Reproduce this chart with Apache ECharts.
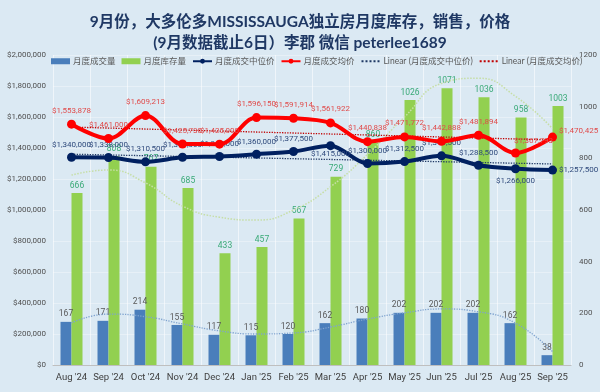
<!DOCTYPE html>
<html>
<head>
<meta charset="utf-8">
<script src="https://cdn.jsdelivr.net/npm/echarts@6/dist/echarts.min.js"></script>
<style>
html,body{margin:0;padding:0;background:#dbe9f3;}
#chart{width:600px;height:392px;}
</style>
</head>
<body>
<div id="chart"></div>
<script>
// ---- data ----
const categories = ["Aug '24","Sep '24","Oct '24","Nov '24","Dec '24","Jan '25","Feb '25","Mar '25","Apr '25","May '25","Jun '25","Jul '25","Aug '25","Sep '25"];
const sales = [167,171,214,155,117,115,120,162,180,202,202,202,162,38];
const inventory = [666,808,767,685,433,457,567,729,860,1026,1071,1036,958,1003];
const medianPrice = [1340000,1338000,1310500,1340000,1345000,1360000,1377500,1415000,1300000,1312500,1349500,1288500,1266000,1257500];
const averagePrice = [1553878,1461000,1609213,1425730,1425000,1596150,1591914,1561922,1440838,1471772,1442888,1481894,1367793,1470425];
// trend lines (endpoints for linear; curve points for the count trends)
const medianLinearEnds = [1360000, 1297000];
const averageLinearEnds = [1535000, 1452000];
const salesTrend = [163,197,187,159,132,120,124,147,178,202,217,206,162,52];
const inventoryTrend = [735,755,705,615,572,561,600,690,815,960,1090,1110,1040,915];
const leftTicks = {min:0, max:2000000, interval:200000};
const rightTicks = {min:0, max:1200, interval:200};

// ---- styling ----
const numFont = "Roboto, 'Liberation Sans', sans-serif";
const cjkFont = "Lato, 'Noto Sans CJK SC', sans-serif";
const medianLabelPos = {7:['bottom',[0,-4]], 12:['bottom',[0,0]], 13:['right',[-2,0]]};
const avgLabelPos = {12:['top',[18,2]], 13:['right',[-3,-6]]};
const money = v => '$' + Math.round(v).toLocaleString('en-US');

function endsToSeries(ends){
  const arr = categories.map(() => null);
  arr[0] = ends[0]; arr[arr.length-1] = ends[1];
  return arr;
}
function withLabels(values, posMap, defPos){
  return values.map((v,i) => {
    const p = posMap[i];
    return {value:v, label:{position: p ? p[0] : defPos, offset: p ? p[1] : [0,0]}};
  });
}
const noMarker = {color:'rgba(0,0,0,0)', borderColor:'rgba(0,0,0,0)', borderWidth:0};

const chart = echarts.init(document.getElementById('chart'), null, {renderer:'canvas'});
chart.setOption({
  backgroundColor:'#dbe9f3',
  animation:false,
  title:{
    text:"9月份，大多伦多MISSISSAUGA独立房月度库存，销售，价格\n(9月数据截止6日）李郡 微信 peterlee1689",
    left:'center', top:6,
    textStyle:{fontFamily:cjkFont, fontWeight:'bold', fontSize:15.5, lineHeight:21, color:'#1f3864'}
  },
  legend:{
    top:52, left:46, right:2, itemGap:6, itemWidth:19, itemHeight:6,
    textStyle:{fontFamily:cjkFont, fontSize:8.5, color:'#595959', padding:[0,0,0,-2]},
    data:[
      {name:'月度成交量', icon:'rect'},
      {name:'月度库存量', icon:'rect'},
      {name:'月度成交中位价'},
      {name:'月度成交均价'},
      {name:'Linear (月度成交中位价)', itemStyle:noMarker},
      {name:'Linear (月度成交均价)', itemStyle:noMarker}
    ]
  },
  grid:{left:53, right:22, top:55, bottom:27},
  xAxis:{
    type:'category', data:categories, boundaryGap:true,
    axisLine:{lineStyle:{color:'#bfbfbf'}}, axisTick:{show:false},
    axisLabel:{interval:0, fontFamily:numFont, fontSize:9.5, color:'#404040', margin:8},
    splitLine:{show:true, lineStyle:{color:'rgba(255,255,255,0.55)', width:1}}
  },
  yAxis:[
    {type:'value', min:leftTicks.min, max:leftTicks.max, interval:leftTicks.interval,
     axisLine:{show:false}, axisTick:{show:false},
     axisLabel:{fontFamily:numFont, fontSize:8, color:'#505050', margin:7, formatter:v=>money(v)},
     splitLine:{show:true, lineStyle:{color:'rgba(255,255,255,0.35)'}}},
    {type:'value', min:rightTicks.min, max:rightTicks.max, interval:rightTicks.interval,
     axisLine:{show:false}, axisTick:{show:false},
     axisLabel:{fontFamily:numFont, fontSize:8, color:'#505050', margin:8, formatter:v=>String(v)},
     splitLine:{show:false}}
  ],
  series:[
    {name:'月度成交量', type:'bar', yAxisIndex:1, data:sales, barWidth:11, barGap:'0%',
     itemStyle:{color:'#4a7ebb'},
     label:{show:true, position:'top', distance:3, fontFamily:numFont, fontSize:8.5, color:'#595959'}},
    {name:'月度库存量', type:'bar', yAxisIndex:1, data:inventory, barWidth:11, barGap:'0%',
     itemStyle:{color:'#92d050'},
     label:{show:true, position:'top', distance:3, fontFamily:numFont, fontSize:8.5, color:'#3aaa78'}},
    {name:'sales trend', type:'line', yAxisIndex:1, data:salesTrend, smooth:0.5, symbol:'none', z:3,
     lineStyle:{color:'#7fa3cf', width:1.3, type:'dotted'}, silent:true},
    {name:'inventory trend', type:'line', yAxisIndex:1, data:inventoryTrend, smooth:0.5, symbol:'none', z:3,
     lineStyle:{color:'#c6dea6', width:1.5, type:'dotted'}, silent:true},
    {name:'Linear (月度成交中位价)', type:'line', yAxisIndex:0, data:endsToSeries(medianLinearEnds), connectNulls:true,
     symbol:'none', z:4, lineStyle:{color:'#1f3864', width:1.3, type:'dotted'}, itemStyle:{color:'#1f3864'}},
    {name:'Linear (月度成交均价)', type:'line', yAxisIndex:0, data:endsToSeries(averageLinearEnds), connectNulls:true,
     symbol:'none', z:4, lineStyle:{color:'#c00000', width:1.3, type:'dotted'}, itemStyle:{color:'#c00000'}},
    {name:'月度成交中位价', type:'line', yAxisIndex:0, data:withLabels(medianPrice, medianLabelPos, 'top'),
     smooth:0.3, symbol:'circle', symbolSize:9, z:5,
     lineStyle:{color:'#002060', width:4}, itemStyle:{color:'#002060'},
     label:{show:true, fontFamily:numFont, fontSize:8, color:'#2f4a7c', distance:4, formatter:p=>money(p.value)}},
    {name:'月度成交均价', type:'line', yAxisIndex:0, data:withLabels(averagePrice, avgLabelPos, 'top'),
     smooth:0.35, symbol:'circle', symbolSize:9, z:6,
     lineStyle:{color:'#ff0000', width:4}, itemStyle:{color:'#ff0000'},
     label:{show:true, fontFamily:numFont, fontSize:8, color:'#e04b4b', distance:5, formatter:p=>money(p.value)}}
  ]
});
</script>
</body>
</html>
